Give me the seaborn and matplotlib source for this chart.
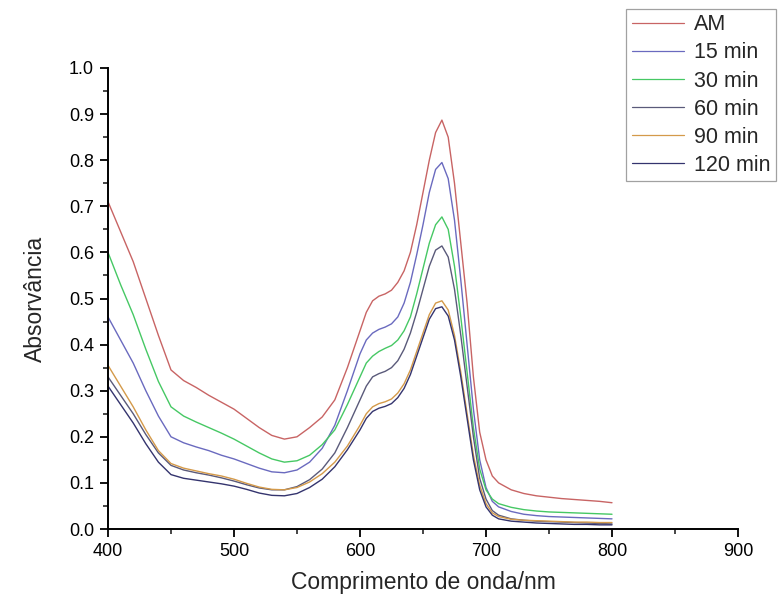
import numpy as np
import pandas as pd
import matplotlib
matplotlib.use("Agg")
import matplotlib.pyplot as plt
import seaborn as sns
from matplotlib.ticker import MultipleLocator

wavelength = [400, 410, 420, 430, 440, 450, 460, 470, 480, 490, 500, 510, 520, 530, 540,
              550, 560, 570, 580, 590, 600, 605, 610, 615, 620, 625, 630, 635, 640, 645,
              650, 655, 660, 665, 670, 675, 680, 685, 690, 695, 700, 705, 710, 720, 730,
              740, 750, 760, 770, 780, 790, 800]

am = [0.71, 0.645, 0.58, 0.50, 0.42, 0.345, 0.322, 0.307, 0.29, 0.275, 0.26, 0.24, 0.22,
      0.203, 0.195, 0.200, 0.220, 0.243, 0.28, 0.35, 0.43, 0.47, 0.495, 0.505, 0.51, 0.518,
      0.535, 0.56, 0.60, 0.66, 0.73, 0.80, 0.86, 0.887, 0.85, 0.75, 0.62, 0.49, 0.33, 0.21,
      0.15, 0.115, 0.10, 0.085, 0.077, 0.072, 0.069, 0.066, 0.064, 0.062, 0.06, 0.057]

min15 = [0.46, 0.41, 0.36, 0.30, 0.245, 0.20, 0.187, 0.178, 0.17, 0.16, 0.152, 0.142, 0.132,
         0.124, 0.122, 0.128, 0.145, 0.175, 0.225, 0.30, 0.38, 0.41, 0.425, 0.433, 0.438,
         0.445, 0.46, 0.49, 0.535, 0.595, 0.66, 0.73, 0.78, 0.795, 0.76, 0.67, 0.54, 0.40,
         0.26, 0.15, 0.09, 0.06, 0.048, 0.038, 0.032, 0.029, 0.027, 0.026, 0.025, 0.024,
         0.023, 0.022]

min30 = [0.60, 0.53, 0.465, 0.39, 0.32, 0.265, 0.245, 0.232, 0.22, 0.208, 0.195, 0.18, 0.165,
         0.152, 0.145, 0.148, 0.16, 0.183, 0.215, 0.27, 0.33, 0.36, 0.375, 0.385, 0.392,
         0.398, 0.41, 0.43, 0.46, 0.51, 0.565, 0.62, 0.66, 0.677, 0.65, 0.57, 0.46, 0.34,
         0.22, 0.13, 0.085, 0.065, 0.055, 0.047, 0.042, 0.039, 0.037, 0.036, 0.035, 0.034,
         0.033, 0.032]

min60 = [0.33, 0.29, 0.25, 0.205, 0.165, 0.138, 0.128, 0.122, 0.117, 0.111, 0.104, 0.096,
         0.089, 0.085, 0.085, 0.092, 0.107, 0.13, 0.165, 0.22, 0.28, 0.31, 0.33, 0.337, 0.342,
         0.35, 0.365, 0.39, 0.425, 0.47, 0.52, 0.57, 0.605, 0.614, 0.59, 0.52, 0.42, 0.31,
         0.20, 0.11, 0.065, 0.04, 0.03, 0.022, 0.019, 0.017, 0.016, 0.015, 0.014, 0.013,
         0.012, 0.011]

min90 = [0.355, 0.31, 0.265, 0.215, 0.17, 0.142, 0.132, 0.126, 0.12, 0.115, 0.108, 0.099,
         0.091, 0.086, 0.085, 0.09, 0.102, 0.12, 0.145, 0.18, 0.225, 0.25, 0.265, 0.272,
         0.276, 0.282, 0.295, 0.315, 0.345, 0.385, 0.425, 0.465, 0.49, 0.495, 0.475, 0.42,
         0.34, 0.25, 0.16, 0.095, 0.055, 0.035, 0.027, 0.021, 0.019, 0.018, 0.017, 0.016,
         0.015, 0.015, 0.014, 0.014]

min120 = [0.31, 0.27, 0.23, 0.185, 0.145, 0.118, 0.11, 0.106, 0.102, 0.098, 0.093, 0.086,
          0.078, 0.073, 0.072, 0.077, 0.09, 0.108, 0.135, 0.172, 0.215, 0.24, 0.255, 0.262,
          0.266, 0.272, 0.285, 0.305, 0.335, 0.375, 0.415, 0.455, 0.478, 0.482, 0.462, 0.41,
          0.33, 0.24, 0.15, 0.085, 0.048, 0.03, 0.022, 0.017, 0.015, 0.013, 0.012, 0.011,
          0.01, 0.01, 0.009, 0.009]

series_names = ["AM", "15 min", "30 min", "60 min", "90 min", "120 min"]
series_values = [am, min15, min30, min60, min90, min120]
colors = ["#c86464", "#6a6abf", "#46c864", "#5a5a7a", "#d49a4a", "#34346e"]

x_ticks = [400, 500, 600, 700, 800, 900]
y_ticks = [0.0, 0.1, 0.2, 0.3, 0.4, 0.5, 0.6, 0.7, 0.8, 0.9, 1.0]

frames = []
for name, vals in zip(series_names, series_values):
    frames.append(pd.DataFrame({"wl": wavelength, "abs": vals, "serie": name}))
df = pd.concat(frames, ignore_index=True)

sns.set_style("ticks")
plt.rcParams["font.family"] = ["Liberation Sans", "DejaVu Sans"]

fig = plt.figure(figsize=(7.79, 6.00), dpi=100)
ax = fig.add_axes([108 / 779, 1 - 529 / 600, (738 - 108) / 779, (529 - 68) / 600])

sns.lineplot(data=df, x="wl", y="abs", hue="serie", hue_order=series_names,
             palette=dict(zip(series_names, colors)), linewidth=1.0, ax=ax,
             estimator=None, sort=False, legend=True)

ax.set_xlim(400, 900)
ax.set_ylim(0, 1.0)
ax.set_xticks(x_ticks)
ax.set_yticks(y_ticks)
ax.set_xticklabels([str(t) for t in x_ticks])
ax.set_yticklabels([f"{t:.1f}" for t in y_ticks])
ax.xaxis.set_minor_locator(MultipleLocator(50))
ax.yaxis.set_minor_locator(MultipleLocator(0.05))
ax.tick_params(axis="both", which="major", length=6, width=1.3, direction="out",
               labelsize=13, colors="black", pad=4)
ax.tick_params(axis="both", which="minor", length=3.5, width=1.2, direction="out")

for side in ["top", "right"]:
    ax.spines[side].set_visible(False)
for side in ["left", "bottom"]:
    ax.spines[side].set_linewidth(1.4)
    ax.spines[side].set_color("black")

ax.set_xlabel("Comprimento de onda/nm", fontsize=16.5, labelpad=8)
ax.set_ylabel("Absorvância", fontsize=16.5, labelpad=16)

handles, labels = ax.get_legend_handles_labels()
ax.legend_.remove()
for h in handles:
    h.set_linewidth(0.9)
leg = fig.legend(handles, labels, loc="upper right",
                 bbox_to_anchor=(776 / 779, 1 - 9 / 600), bbox_transform=fig.transFigure,
                 borderaxespad=0, fontsize=15.5, frameon=True, fancybox=False,
                 handlelength=2.45, handletextpad=0.45, labelspacing=0.33,
                 borderpad=0.25)
leg.get_frame().set_edgecolor("#8a8a8a")
leg.get_frame().set_linewidth(0.9)

fig.savefig("out.png", dpi=100)
